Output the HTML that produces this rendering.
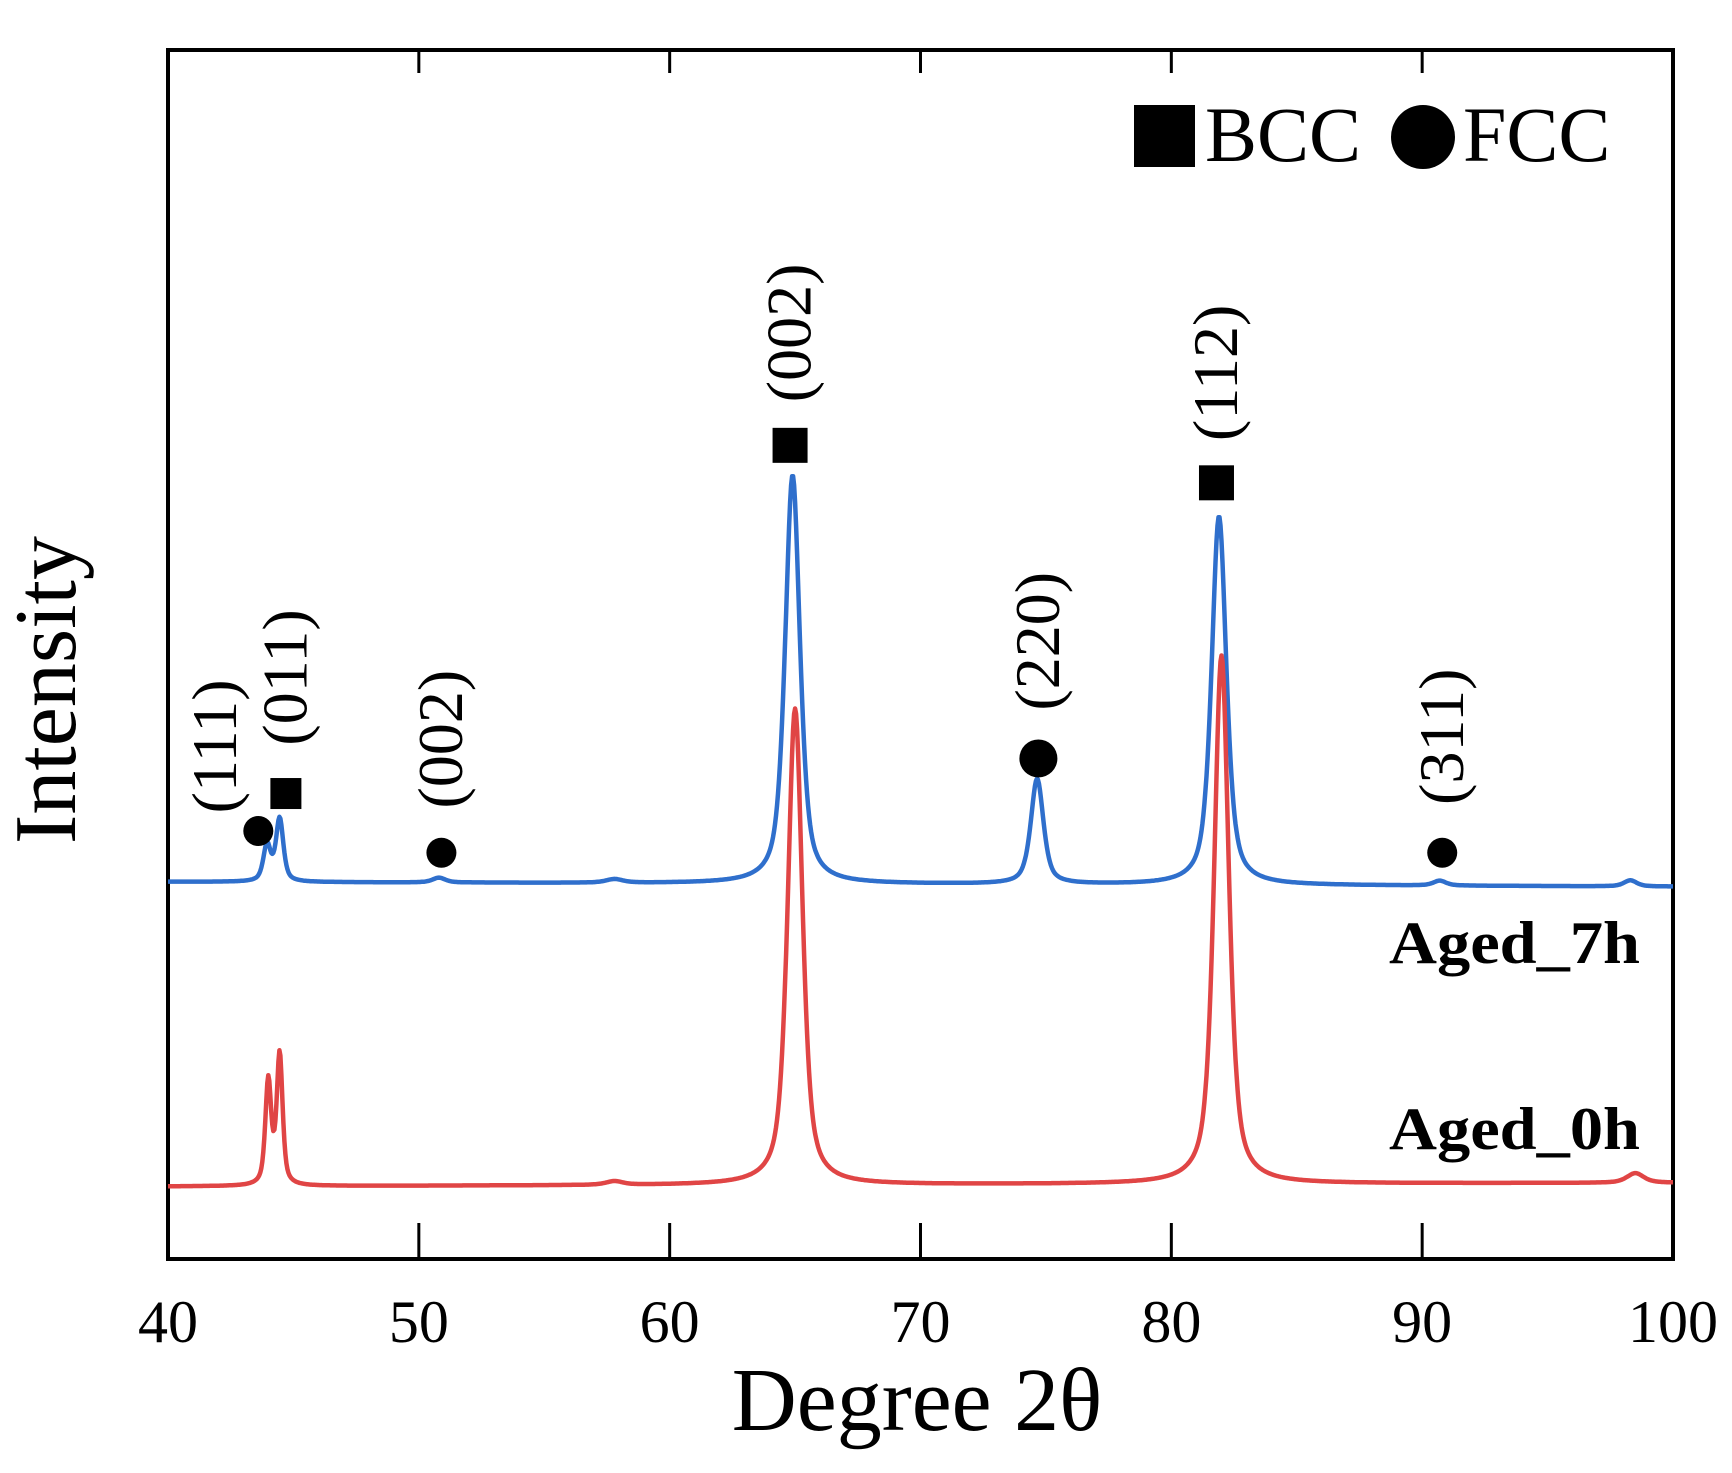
<!DOCTYPE html>
<html><head><meta charset="utf-8"><style>html,body{margin:0;padding:0;background:#fff}svg{display:block}</style></head>
<body>
<svg width="1732" height="1473" viewBox="0 0 1732 1473" xmlns="http://www.w3.org/2000/svg" font-family="Liberation Serif, serif">
<rect x="168" y="50" width="1505" height="1209" fill="none" stroke="#000" stroke-width="4"/>
<g id="ticks"></g>
<g id="curves"></g>
<text x="55" y="690" font-size="88" text-anchor="middle" dominant-baseline="middle" transform="rotate(-90 55 690)">Intensity</text>
<text x="917" y="1430" font-size="90" text-anchor="middle">Degree 2θ</text>
<g>
<rect x="1134" y="105" width="61" height="62" fill="#000"/>
<text x="1205" y="161" font-size="78">BCC</text>
<ellipse cx="1423" cy="137" rx="32" ry="32" fill="#000"/>
<text x="1463" y="161" font-size="78">FCC</text>
</g>
<text x="1640" y="963" font-size="60" font-weight="bold" text-anchor="end" textLength="251" lengthAdjust="spacingAndGlyphs">Aged_7h</text>
<text x="1640" y="1149" font-size="60" font-weight="bold" text-anchor="end" textLength="251" lengthAdjust="spacingAndGlyphs">Aged_0h</text>
<g id="annot"></g>
</svg>
<script>
const xTicks = [40,50,60,70,80,90,100];
const bluePos = [43.95, 44.45, 50.8, 57.8, 64.9, 74.65, 81.9, 90.7, 98.3];
const blueAmp = [30, 52, 4, 3, 338, 87, 305, 4, 5];
const blueWid = [0.35, 0.35, 0.6, 0.8, 0.7, 0.6, 0.7, 0.6, 0.6];
const blueBase = [312, 308];
const redPos = [44.0, 44.45, 57.8, 65.0, 82.0, 98.5];
const redAmp = [86, 108, 3, 394, 437, 8];
const redWid = [0.28, 0.28, 0.8, 0.7, 0.7, 0.8];
const redBase = [60, 63];
const markType = ['c','s','c','s','c','s','c'];
const markDeg = [43.6, 44.7, 50.9, 64.8, 74.7, 81.8, 90.8];
const markVal = [354, 385, 336, 673, 414, 642, 336];
const markLabel = ['(111)','(011)','(002)','(002)','(220)','(112)','(311)'];
const labelVal = [424, 481, 430, 766, 511, 733, 432];

const X0=168,X1=1673,Y0=1259,Y1=50;
const xs = d => X0 + (d-40)/60*(X1-X0);
const ys = v => Y0 - v/1000*(Y0-Y1);
const NS='http://www.w3.org/2000/svg';
const tg=document.getElementById('ticks');
xTicks.forEach((t,i)=>{
  const x=xs(t);
  if(i>0&&i<xTicks.length-1){
    const a=document.createElementNS(NS,'line');
    a.setAttribute('x1',x);a.setAttribute('x2',x);a.setAttribute('y1',Y0);a.setAttribute('y2',Y0-36);
    a.setAttribute('stroke','#000');a.setAttribute('stroke-width','3');
    
    
    tg.appendChild(a);
    const b=document.createElementNS(NS,'line');
    b.setAttribute('x1',x);b.setAttribute('x2',x);b.setAttribute('y1',Y1);b.setAttribute('y2',Y1+23);
    b.setAttribute('stroke','#000');b.setAttribute('stroke-width','3');
    
    
    tg.appendChild(b);
  }
  const l=document.createElementNS(NS,'text');
  l.setAttribute('x',x);l.setAttribute('y',1342);l.setAttribute('font-size','60');l.setAttribute('text-anchor','middle');
  l.textContent=t;
  
  
  tg.appendChild(l);
});
function curve(pos,amp,wid,base){
  let d='';
  for(let x=40;x<=100.0001;x+=0.04){
    let v=base[0]+(base[1]-base[0])*(x-40)/60;
    for(let i=0;i<pos.length;i++){const u=(x-pos[i])/(wid[i]/2);v+=amp[i]*(0.6/(1+u*u)+0.4*Math.exp(-0.693*u*u));}
    d+=(d?'L':'M')+xs(x).toFixed(1)+','+ys(v).toFixed(1);
  }
  return d;
}
const cg=document.getElementById('curves');
[[bluePos,blueAmp,blueWid,blueBase,'#2f6fcc','series-aged-7h'],[redPos,redAmp,redWid,redBase,'#e04545','series-aged-0h']].forEach(s=>{
  const p=document.createElementNS(NS,'path');
  p.setAttribute('d',curve(s[0],s[1],s[2],s[3]));
  p.setAttribute('fill','none');p.setAttribute('stroke',s[4]);p.setAttribute('stroke-width','4.5');p.setAttribute('stroke-linejoin','round');
  
  
  cg.appendChild(p);
});
const ag=document.getElementById('annot');
markDeg.forEach((d,i)=>{
  const x=xs(d),y=ys(markVal[i]);
  let m;
  const big=(i===3||i===5)?35:31;
  if(markType[i]==='s'){m=document.createElementNS(NS,'rect');m.setAttribute('x',x-big/2);m.setAttribute('y',y-big/2);m.setAttribute('width',big);m.setAttribute('height',big);}
  else{m=document.createElementNS(NS,'circle');m.setAttribute('cx',x);m.setAttribute('cy',y);m.setAttribute('r',i===4?19:15);}
  m.setAttribute('fill','#000');
  
  
  ag.appendChild(m);
  const lx=x+(i===0?-37:6),ly=ys(labelVal[i]);
  const t=document.createElementNS(NS,'text');
  t.setAttribute('x',lx);t.setAttribute('y',ly);t.setAttribute('font-size','64');t.setAttribute('text-anchor','middle');t.setAttribute('dominant-baseline','middle');
  t.setAttribute('transform','rotate(-90 '+lx+' '+ly+')');
  t.textContent=markLabel[i];
  
  
  ag.appendChild(t);
});
</script>
</body></html>
